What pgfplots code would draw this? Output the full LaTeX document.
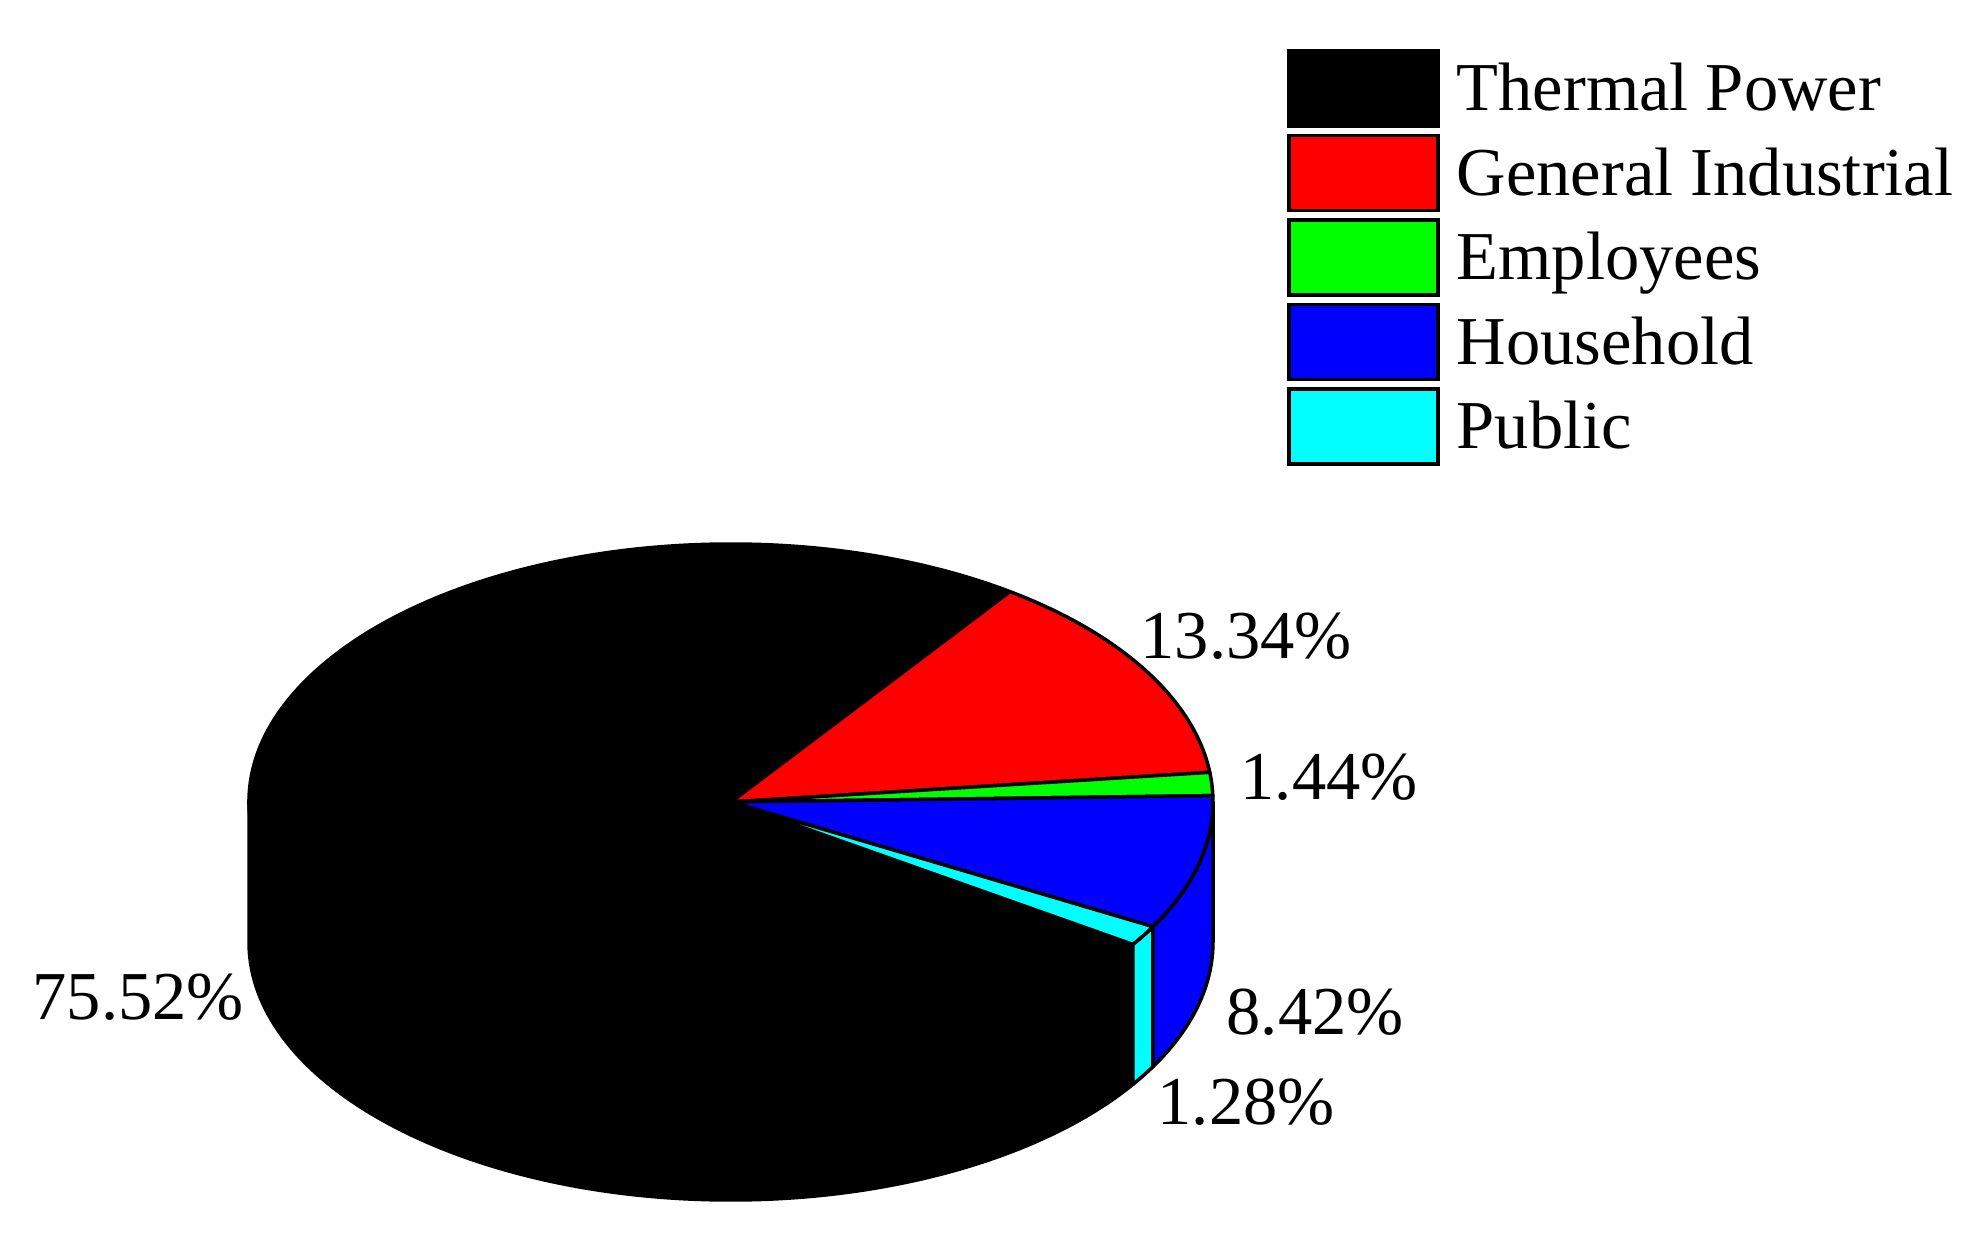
\documentclass[border=0pt]{standalone}
\usepackage{pgfplots}
\usepackage{pgfplotstable}
\pgfplotsset{compat=1.18}
\usepackage{fontspec}
\setmainfont{Liberation Serif}
\newcommand\piefont{\fontsize{19.5}{23}\selectfont}
\definecolor{pieblack}{RGB}{0,0,0}
\definecolor{piered}{RGB}{255,0,0}
\definecolor{piegreen}{RGB}{0,255,0}
\definecolor{pieblue}{RGB}{0,0,255}
\definecolor{piecyan}{RGB}{0,255,255}

% value in %, label baseline position (x, y from top, in px of the 1982x1235 picture)
\pgfplotstableread[col sep=comma,row sep=\\]{
label,value,color,lx,ly\\
Thermal Power,75.52,pieblack,32,1020\\
General Industrial,13.34,piered,1140,659\\
Employees,1.44,piegreen,1240,800\\
Household,8.42,pieblue,1226,1035\\
Public,1.28,piecyan,1157,1125\\
}\piedata

\def\cx{731}\def\cy{433}
\def\rx{48.2mm}\def\ry{25.8mm}\def\dd{14mm}
\def\startangle{-33.5}

\begin{document}
\begin{tikzpicture}[every node/.style={font=\piefont, inner sep=0pt}]
\useasboundingbox (0,0) rectangle (198.2mm,123.5mm);
\begin{axis}[
  at={(0,0)}, anchor=south west,
  scale only axis, width=198.2mm, height=123.5mm,
  xmin=0, xmax=1982, ymin=0, ymax=1235,
  hide axis, clip=false]
\pgfplotstablegetrowsof{\piedata}
\pgfmathtruncatemacro\nrows{\pgfplotsretval-1}
% ---- side faces
\global\let\cumangle\startangle
\pgfplotsforeachungrouped \i in {0,...,\nrows}{%
  \pgfplotstablegetelem{\i}{value}\of\piedata \let\val\pgfplotsretval
  \pgfplotstablegetelem{\i}{color}\of\piedata \let\col\pgfplotsretval
  \pgfmathsetmacro\sa{\cumangle< -180 ? \cumangle+360 : \cumangle}%
  \pgfmathsetmacro\ea{\sa-3.6*\val}%
  \pgfmathsetmacro\hi{min(\sa,0)}%
  \pgfmathsetmacro\lo{max(\ea,-180)}%
  \pgfmathtruncatemacro\vis{\hi>\lo ? 1 : 0}%
  \ifnum\vis=1
    \edef\tmp{\noexpand\filldraw[fill=\col, draw=black, line width=0.35mm, line join=round]
      (axis cs:\cx,\cy) ++(\hi:\rx\space and \ry)
      arc[start angle=\hi, end angle=\lo, x radius=\rx, y radius=\ry]
      -- ++(0mm,-\dd)
      arc[start angle=\lo, end angle=\hi, x radius=\rx, y radius=\ry] -- cycle;}%
    \tmp
  \fi
  \global\let\cumangle\ea
}
% ---- top faces, labels, legend
\global\let\cumangle\startangle
\pgfplotsforeachungrouped \i in {0,...,\nrows}{%
  \pgfplotstablegetelem{\i}{value}\of\piedata \let\val\pgfplotsretval
  \pgfplotstablegetelem{\i}{color}\of\piedata \let\col\pgfplotsretval
  \pgfplotstablegetelem{\i}{label}\of\piedata \let\lab\pgfplotsretval
  \pgfplotstablegetelem{\i}{lx}\of\piedata \let\lx\pgfplotsretval
  \pgfplotstablegetelem{\i}{ly}\of\piedata \pgfmathsetmacro\ly{1235-\pgfplotsretval}%
  \pgfmathsetmacro\sa{\cumangle< -180 ? \cumangle+360 : \cumangle}%
  \pgfmathsetmacro\ea{\sa-3.6*\val}%
  \pgfmathsetmacro\bt{1235-51-84.5*\i}%
  \pgfmathsetmacro\bb{\bt-75}%
  \pgfmathsetmacro\tb{\bt-60}%
  \edef\tmp{\noexpand\filldraw[fill=\col, draw=black, line width=0.35mm, line join=round]
      (axis cs:\cx,\cy) -- ++(\sa:\rx\space and \ry)
      arc[start angle=\sa, end angle=\ea, x radius=\rx, y radius=\ry] -- cycle;
    \noexpand\node[anchor=base west] at (axis cs:\lx,\ly) {\val\noexpand\%};
    \noexpand\filldraw[fill=\col, draw=black, line width=0.35mm] (axis cs:1289,\bt) rectangle (axis cs:1438,\bb);
    \noexpand\node[anchor=base west] at (axis cs:1456,\tb) {\lab};}%
  \tmp
  \global\let\cumangle\ea
}
\end{axis}
\end{tikzpicture}
\end{document}
